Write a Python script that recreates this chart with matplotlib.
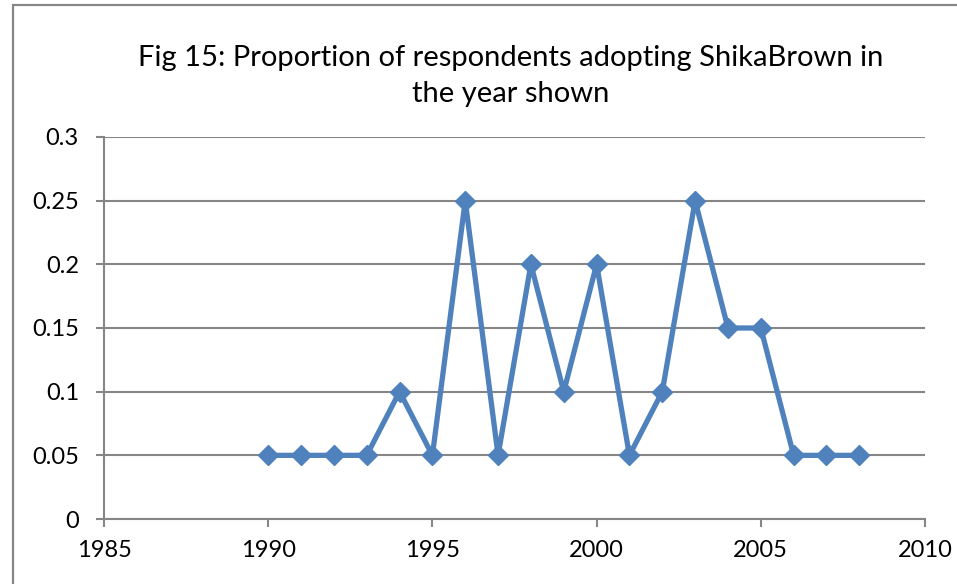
import matplotlib.pyplot as plt
from matplotlib.patches import Rectangle

# adoption share per year
years = [1990, 1991, 1992, 1993, 1994, 1995, 1996, 1997, 1998, 1999,
         2000, 2001, 2002, 2003, 2004, 2005, 2006, 2007, 2008]
share = [0.05, 0.05, 0.05, 0.05, 0.10, 0.05, 0.25, 0.05, 0.20, 0.10,
         0.20, 0.05, 0.10, 0.25, 0.15, 0.15, 0.05, 0.05, 0.05]
yticks = [0, 0.05, 0.1, 0.15, 0.2, 0.25, 0.3]
ylabels = ['0', '0.05', '0.1', '0.15', '0.2', '0.25', '0.3']
xticks = [1985, 1990, 1995, 2000, 2005, 2010]

plt.rcParams['font.family'] = ['Lato', 'DejaVu Sans']
grey = '#868686'
blue = '#4f81bd'

fig = plt.figure(figsize=(9.57, 5.84), dpi=100)

# outer chart frame (only top and left edges fall inside the image)
fig.patches.append(Rectangle((13 / 957, -0.2), 1.2, 0.2 + 579 / 584,
                             transform=fig.transFigure, fill=False,
                             edgecolor=grey, lw=1.6))

ax = fig.add_axes([104 / 957, 65 / 584, 821 / 957, 382 / 584])
ax.plot(years, share, color=blue, lw=3.8, marker='D', ms=10,
        markerfacecolor=blue, markeredgecolor=blue, zorder=3,
        clip_on=False)

ax.set_xlim(1985, 2010)
ax.set_ylim(0, 0.3)
ax.set_xticks(xticks)
ax.set_xticklabels([str(x) for x in xticks])
ax.set_yticks(yticks)
ax.set_yticklabels(ylabels)

ax.yaxis.grid(True, color=grey, lw=1.5)
ax.set_axisbelow(True)
for s in ['top', 'right']:
    ax.spines[s].set_visible(False)
for s in ['left', 'bottom']:
    ax.spines[s].set_color(grey)
    ax.spines[s].set_linewidth(1.5)

ax.tick_params(axis='y', direction='out', length=6, width=1.5, color=grey,
               labelsize=17, pad=12)
ax.tick_params(axis='x', direction='out', length=6, width=1.5, color=grey,
               labelsize=17, pad=9)

fig.text(511 / 957, 1 - 76 / 584,
         'Fig 15: Proportion of respondents adopting ShikaBrown in\nthe year shown',
         ha='center', va='center', fontsize=21, linespacing=1.5)

fig.savefig('out.png', dpi=100)
